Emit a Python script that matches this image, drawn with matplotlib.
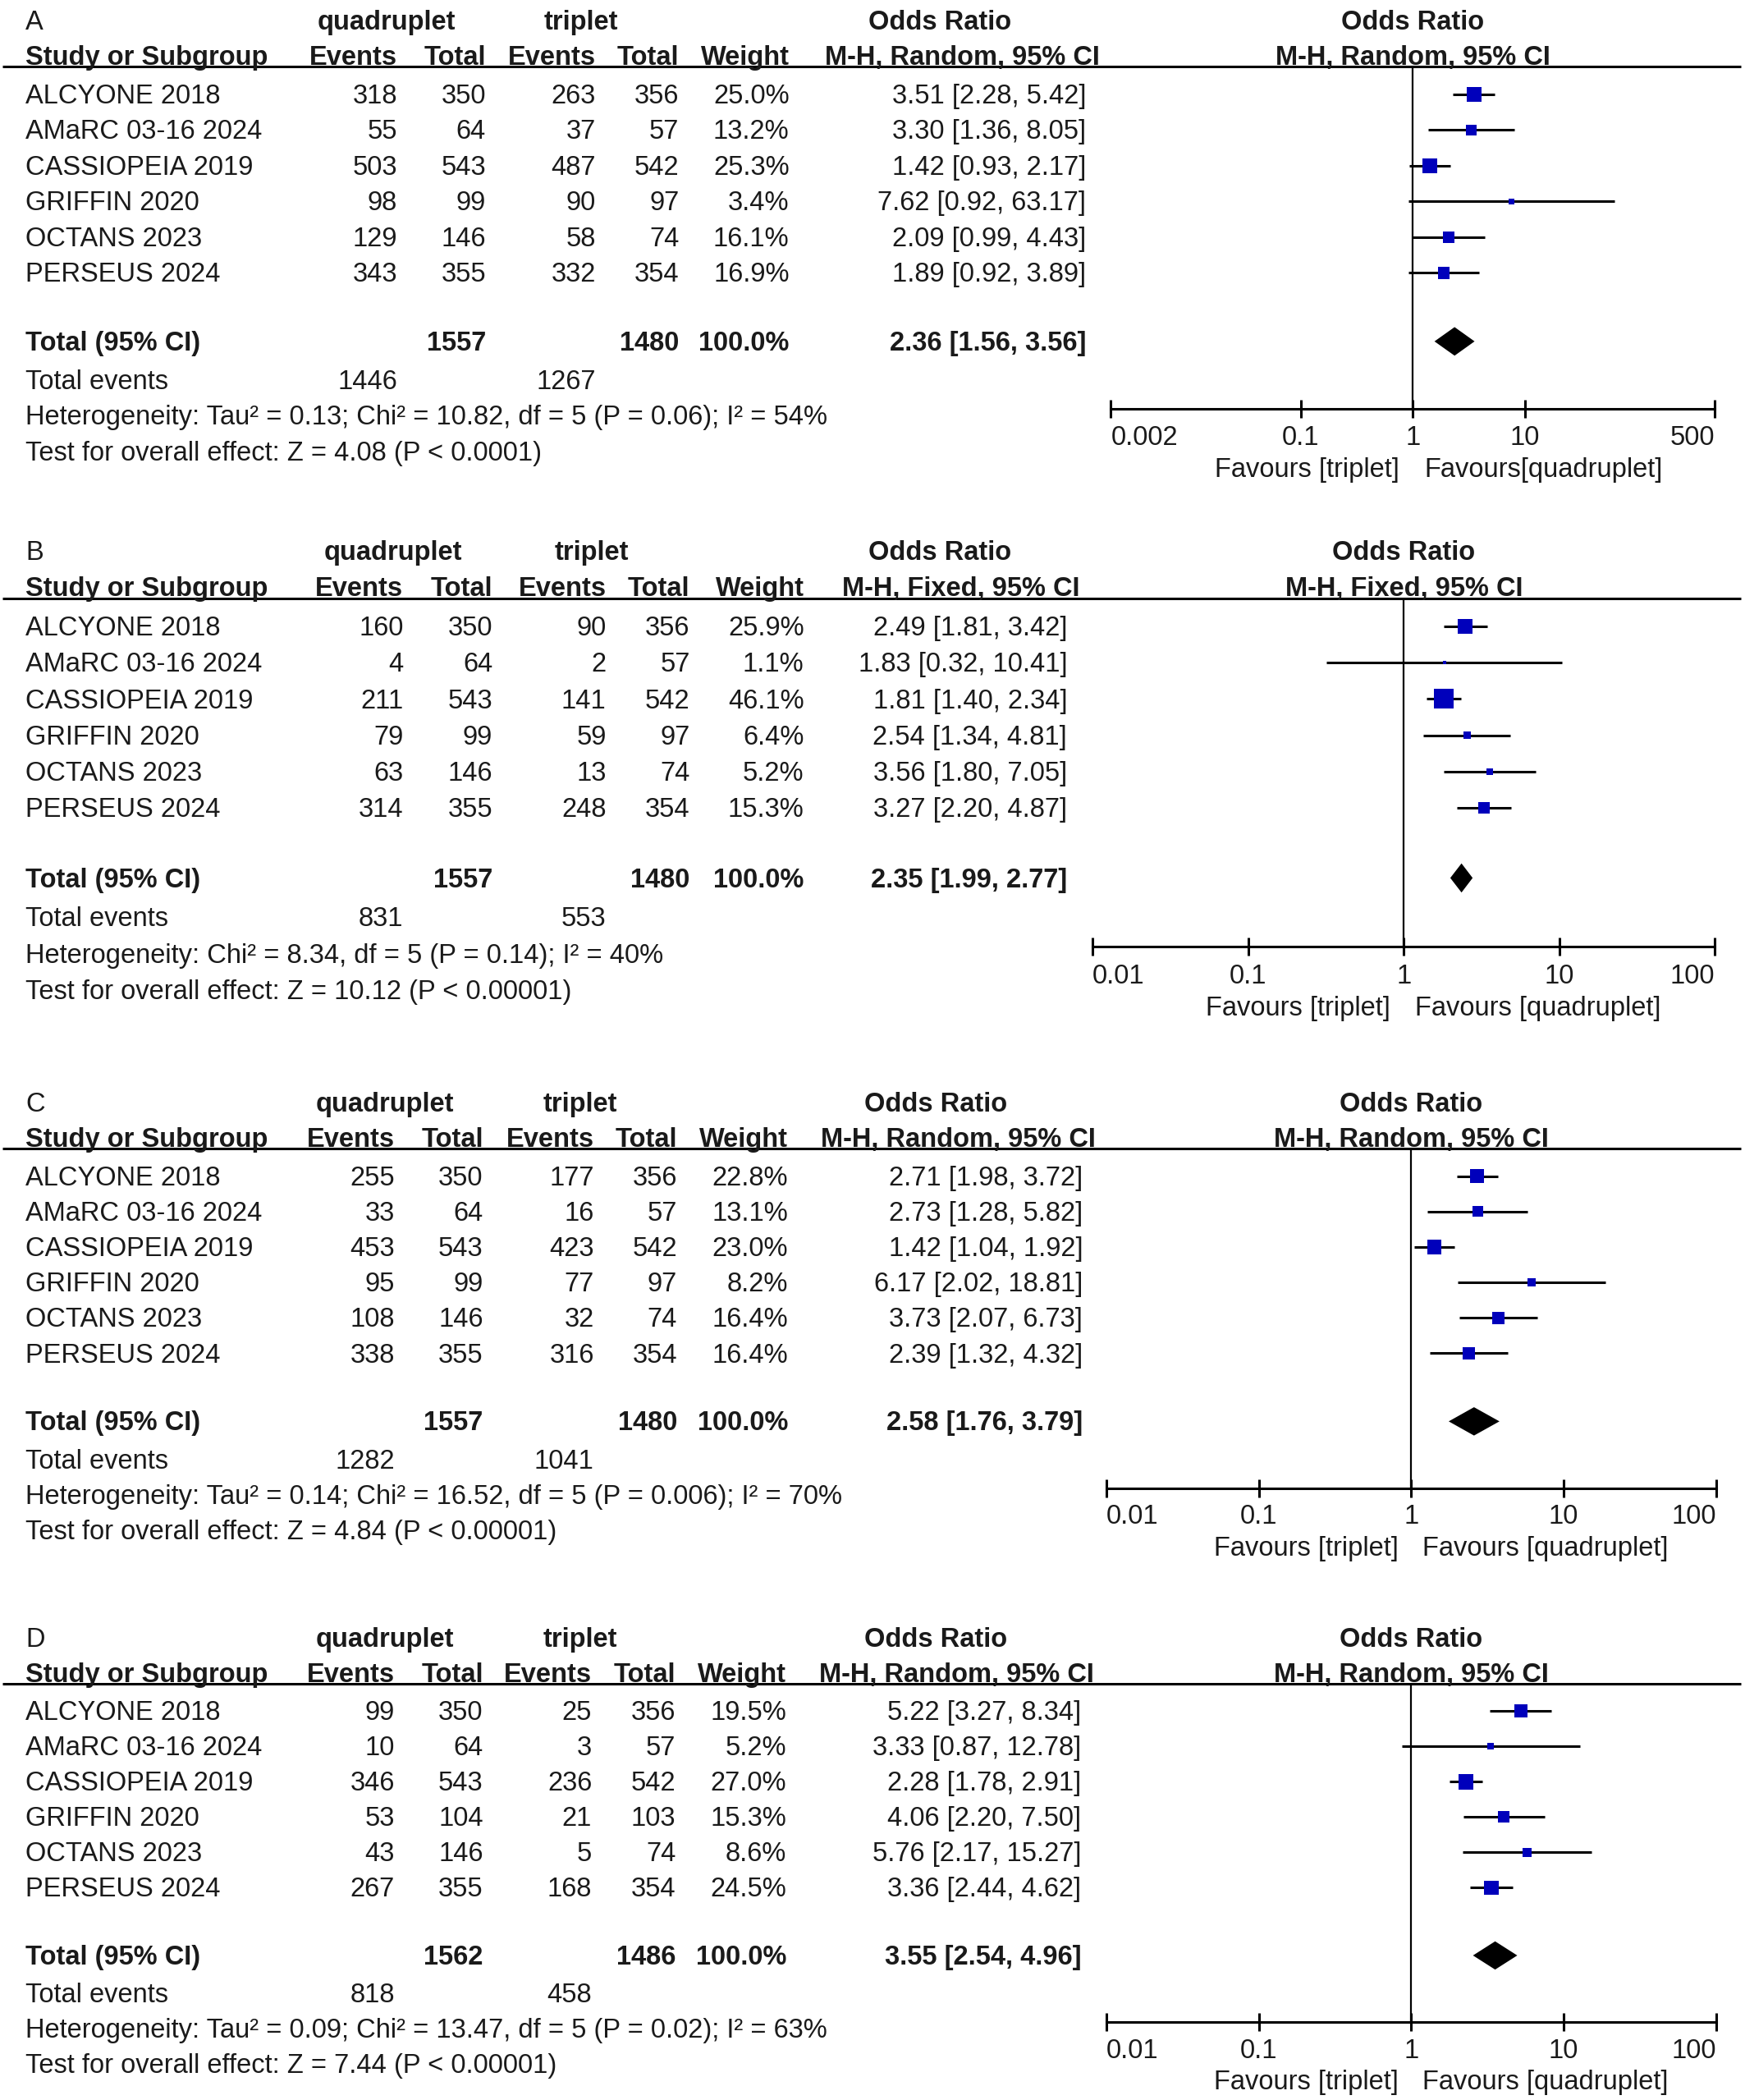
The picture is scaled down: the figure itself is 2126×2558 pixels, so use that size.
import matplotlib
matplotlib.use("Agg")
import matplotlib.pyplot as plt
from matplotlib import transforms
from matplotlib.ticker import NullLocator

plt.rcParams['font.family'] = ['Liberation Sans', 'DejaVu Sans']

STUDIES = ["ALCYONE 2018", "AMaRC 03-16 2024", "CASSIOPEIA 2019",
           "GRIFFIN 2020", "OCTANS 2023", "PERSEUS 2024"]

# ---- panel A
a_quad_events = [318, 55, 503, 98, 129, 343]
a_quad_total = [350, 64, 543, 99, 146, 355]
a_trip_events = [263, 37, 487, 90, 58, 332]
a_trip_total = [356, 57, 542, 97, 74, 354]
a_weight = [25.0, 13.2, 25.3, 3.4, 16.1, 16.9]
a_or = [3.51, 3.30, 1.42, 7.62, 2.09, 1.89]
a_lo = [2.28, 1.36, 0.93, 0.92, 0.99, 0.92]
a_hi = [5.42, 8.05, 2.17, 63.17, 4.43, 3.89]
a_total = (2.36, 1.56, 3.56)
a_het = "Heterogeneity: Tau² = 0.13; Chi² = 10.82, df = 5 (P = 0.06); I² = 54%"
a_test = "Test for overall effect: Z = 4.08 (P < 0.0001)"
a_ticks = [0.002, 0.1, 1, 10, 500]
a_ticklabels = ["0.002", "0.1", "1", "10", "500"]

# ---- panel B
b_quad_events = [160, 4, 211, 79, 63, 314]
b_quad_total = [350, 64, 543, 99, 146, 355]
b_trip_events = [90, 2, 141, 59, 13, 248]
b_trip_total = [356, 57, 542, 97, 74, 354]
b_weight = [25.9, 1.1, 46.1, 6.4, 5.2, 15.3]
b_or = [2.49, 1.83, 1.81, 2.54, 3.56, 3.27]
b_lo = [1.81, 0.32, 1.40, 1.34, 1.80, 2.20]
b_hi = [3.42, 10.41, 2.34, 4.81, 7.05, 4.87]
b_total = (2.35, 1.99, 2.77)
b_het = "Heterogeneity: Chi² = 8.34, df = 5 (P = 0.14); I² = 40%"
b_test = "Test for overall effect: Z = 10.12 (P < 0.00001)"

# ---- panel C
c_quad_events = [255, 33, 453, 95, 108, 338]
c_quad_total = [350, 64, 543, 99, 146, 355]
c_trip_events = [177, 16, 423, 77, 32, 316]
c_trip_total = [356, 57, 542, 97, 74, 354]
c_weight = [22.8, 13.1, 23.0, 8.2, 16.4, 16.4]
c_or = [2.71, 2.73, 1.42, 6.17, 3.73, 2.39]
c_lo = [1.98, 1.28, 1.04, 2.02, 2.07, 1.32]
c_hi = [3.72, 5.82, 1.92, 18.81, 6.73, 4.32]
c_total = (2.58, 1.76, 3.79)
c_het = "Heterogeneity: Tau² = 0.14; Chi² = 16.52, df = 5 (P = 0.006); I² = 70%"
c_test = "Test for overall effect: Z = 4.84 (P < 0.00001)"

# ---- panel D
d_quad_events = [99, 10, 346, 53, 43, 267]
d_quad_total = [350, 64, 543, 104, 146, 355]
d_trip_events = [25, 3, 236, 21, 5, 168]
d_trip_total = [356, 57, 542, 103, 74, 354]
d_weight = [19.5, 5.2, 27.0, 15.3, 8.6, 24.5]
d_or = [5.22, 3.33, 2.28, 4.06, 5.76, 3.36]
d_lo = [3.27, 0.87, 1.78, 2.20, 2.17, 2.44]
d_hi = [8.34, 12.78, 2.91, 7.50, 15.27, 4.62]
d_total = (3.55, 2.54, 4.96)
d_het = "Heterogeneity: Tau² = 0.09; Chi² = 13.47, df = 5 (P = 0.02); I² = 63%"
d_test = "Test for overall effect: Z = 7.44 (P < 0.00001)"

std_ticks = [0.01, 0.1, 1, 10, 100]
std_ticklabels = ["0.01", "0.1", "1", "10", "100"]

panels = [
    dict(label="A", qe=a_quad_events, qt=a_quad_total, te=a_trip_events, tt=a_trip_total,
         w=a_weight, est=a_or, lo=a_lo, hi=a_hi, total=a_total, het=a_het, test=a_test,
         method="M-H, Random, 95% CI", ticks=a_ticks, ticklabels=a_ticklabels,
         fav=("Favours [triplet]", "Favours[quadruplet]")),
    dict(label="B", qe=b_quad_events, qt=b_quad_total, te=b_trip_events, tt=b_trip_total,
         w=b_weight, est=b_or, lo=b_lo, hi=b_hi, total=b_total, het=b_het, test=b_test,
         method="M-H, Fixed, 95% CI", ticks=std_ticks, ticklabels=std_ticklabels,
         fav=("Favours [triplet]", "Favours [quadruplet]")),
    dict(label="C", qe=c_quad_events, qt=c_quad_total, te=c_trip_events, tt=c_trip_total,
         w=c_weight, est=c_or, lo=c_lo, hi=c_hi, total=c_total, het=c_het, test=c_test,
         method="M-H, Random, 95% CI", ticks=std_ticks, ticklabels=std_ticklabels,
         fav=("Favours [triplet]", "Favours [quadruplet]")),
    dict(label="D", qe=d_quad_events, qt=d_quad_total, te=d_trip_events, tt=d_trip_total,
         w=d_weight, est=d_or, lo=d_lo, hi=d_hi, total=d_total, het=d_het, test=d_test,
         method="M-H, Random, 95% CI", ticks=std_ticks, ticklabels=std_ticklabels,
         fav=("Favours [triplet]", "Favours [quadruplet]")),
]

# layout, in a 1300-wide grid (reference pixels / 1.635)
layout = {
    "A": dict(row0=70.2, step=26.6, ax=(827.5, 1277.6),
              cols=(296, 362, 444, 506, 588, 809, 819), heads=(288, 433, 700)),
    "B": dict(row0=466.4, step=27.1, ax=(814, 1277.6),
              cols=(300.5, 367, 451.6, 514, 599, 795, 804.5), heads=(293, 441, 700)),
    "C": dict(row0=876, step=26.4, ax=(824.4, 1278.4),
              cols=(294, 360, 442.6, 504.6, 587, 806.7, 816), heads=(287, 432, 697)),
    "D": dict(row0=1274.5, step=26.3, ax=(824.4, 1278.4),
              cols=(294, 360, 441, 503.5, 586, 805.6, 815), heads=(287, 432, 697)),
}

W = 1300.0
H = 2558 / (2126 / 1300.0)
FS = 23.5
INK = "#1a1a1a"
SQ = "#0000bb"
DY = 0.06   # small downward nudge so text sits like the reference

R_HEAD1, R_HEAD2, R_LINE = -2.07, -1.07, -0.77
R_TOTAL, R_EVENTS, R_HET, R_TEST = 6.92, 8.0, 9.0, 10.0
R_AXIS, R_TICKLAB, R_FAV = 8.8, 9.56, 10.45
R_TOP, R_BOT = -2.7, 11.0

fig = plt.figure(figsize=(21.26, 25.58), dpi=100)


def box(x0, x1, y_top, y_bot):
    return [x0 / W, 1 - y_bot / H, (x1 - x0) / W, (y_bot - y_top) / H]


for p in panels:
    L = layout[p["label"]]
    r0, st = L["row0"], L["step"]
    qe_x, qt_x, te_x, tt_x, w_x, ci_x, cih_x = L["cols"]
    hq_x, ht_x, hor_x = L["heads"]

    # text axes: x in grid units, y in rows
    ax_t = fig.add_axes(box(0, W, r0 + R_TOP * st, r0 + R_BOT * st))
    ax_t.set_xlim(0, W)
    ax_t.set_ylim(R_BOT, R_TOP)
    ax_t.axis("off")

    def put(x, y, s, ha="right", bold=False):
        ax_t.text(x, y + DY, s, ha=ha, va="center", fontsize=FS, color=INK,
                  fontweight="bold" if bold else "normal")

    put(19, R_HEAD1, p["label"], ha="left")
    put(hq_x, R_HEAD1, "quadruplet", ha="center", bold=True)
    put(ht_x, R_HEAD1, "triplet", ha="center", bold=True)
    put(hor_x, R_HEAD1, "Odds Ratio", ha="center", bold=True)
    put(19, R_HEAD2, "Study or Subgroup", ha="left", bold=True)
    put(qe_x, R_HEAD2, "Events", bold=True)
    put(qt_x, R_HEAD2, "Total", bold=True)
    put(te_x, R_HEAD2, "Events", bold=True)
    put(tt_x, R_HEAD2, "Total", bold=True)
    put(w_x, R_HEAD2, "Weight", bold=True)
    put(cih_x, R_HEAD2, p["method"], bold=True)
    ax_t.plot([2, 1297], [R_LINE, R_LINE], color="black", lw=2.2,
              solid_capstyle="butt")

    for i, name in enumerate(STUDIES):
        put(19, i, name, ha="left")
        put(qe_x, i, str(p["qe"][i]))
        put(qt_x, i, str(p["qt"][i]))
        put(te_x, i, str(p["te"][i]))
        put(tt_x, i, str(p["tt"][i]))
        put(w_x, i, f"{p['w'][i]:.1f}%")
        put(ci_x, i, f"{p['est'][i]:.2f} [{p['lo'][i]:.2f}, {p['hi'][i]:.2f}]")

    t_or, t_lo, t_hi = p["total"]
    put(19, R_TOTAL, "Total (95% CI)", ha="left", bold=True)
    put(qt_x, R_TOTAL, str(sum(p["qt"])), bold=True)
    put(tt_x, R_TOTAL, str(sum(p["tt"])), bold=True)
    put(w_x, R_TOTAL, "100.0%", bold=True)
    put(ci_x, R_TOTAL, f"{t_or:.2f} [{t_lo:.2f}, {t_hi:.2f}]", bold=True)
    put(19, R_EVENTS, "Total events", ha="left")
    put(qe_x, R_EVENTS, str(sum(p["qe"])))
    put(te_x, R_EVENTS, str(sum(p["te"])))
    put(19, R_HET, p["het"], ha="left")
    put(19, R_TEST, p["test"], ha="left")

    # forest axes
    x0, x1 = L["ax"]
    ax = fig.add_axes(box(x0, x1, r0 + R_LINE * st, r0 + R_AXIS * st))
    ax.patch.set_visible(False)
    ax.set_xscale("log")
    ax.set_xlim(p["ticks"][0], p["ticks"][-1])
    ax.set_ylim(R_AXIS, R_LINE)
    for side in ("top", "left", "right"):
        ax.spines[side].set_visible(False)
    ax.spines["bottom"].set_linewidth(2.2)
    ax.set_yticks([])
    ax.set_xticks(p["ticks"])
    ax.xaxis.set_minor_locator(NullLocator())
    ax.set_xticklabels([])
    ax.tick_params(axis="x", direction="inout", length=15.5, width=2.2, color="black")
    ax.axvline(1, color="black", lw=1.6, zorder=1)

    rows = list(range(len(STUDIES)))
    ax.hlines(rows, p["lo"], p["hi"], color="black", lw=2.2, zorder=2)
    ax.scatter(p["est"], rows, s=[6.6 * w for w in p["w"]], marker="s",
               color=SQ, linewidths=0, zorder=3)
    dh = 0.40
    ax.fill([t_lo, t_or, t_hi, t_or],
            [R_TOTAL, R_TOTAL - dh, R_TOTAL, R_TOTAL + dh],
            color="black", lw=0, zorder=3)

    n = len(p["ticks"])
    for k, (tv, tl) in enumerate(zip(p["ticks"], p["ticklabels"])):
        ha = "left" if k == 0 else ("right" if k == n - 1 else "center")
        ax.text(tv, R_TICKLAB + DY, tl, ha=ha, va="center", fontsize=FS, color=INK)

    ax.text(1, R_HEAD1 + DY, "Odds Ratio", ha="center", va="center", fontsize=FS,
            color=INK, fontweight="bold")
    ax.text(1, R_HEAD2 + DY, p["method"], ha="center", va="center", fontsize=FS,
            color=INK, fontweight="bold")
    left_tr = transforms.offset_copy(ax.transData, fig=fig, x=-11.5, y=0, units="points")
    right_tr = transforms.offset_copy(ax.transData, fig=fig, x=10, y=0, units="points")
    ax.text(1, R_FAV + DY, p["fav"][0], ha="right", va="center", fontsize=FS,
            color=INK, transform=left_tr)
    ax.text(1, R_FAV + DY, p["fav"][1], ha="left", va="center", fontsize=FS,
            color=INK, transform=right_tr)

fig.savefig("out.png", dpi=100, facecolor="white")
